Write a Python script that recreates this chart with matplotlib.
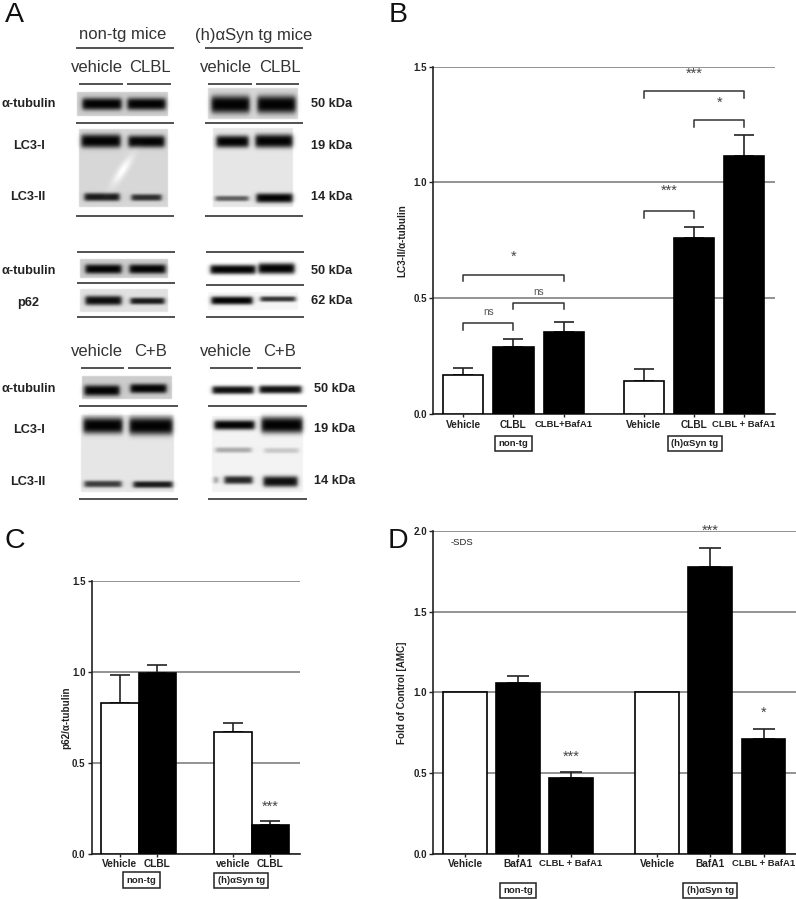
#!/usr/bin/env python3
"""Four panel western blot / bar chart figure: blots in A, bar charts in B, C, D."""

import numpy as np
import matplotlib
matplotlib.use('Agg')
import matplotlib.pyplot as plt

plt.rcParams['font.family'] = ['Liberation Sans', 'DejaVu Sans']

W, H = 796, 899
DARK = '#222222'
GRID = '#808080'

# panel B
b_labels = ['Vehicle', 'CLBL', 'CLBL+BafA1', 'Vehicle', 'CLBL', 'CLBL + BafA1']
b_values = [0.167, 0.288, 0.353, 0.144, 0.759, 1.114]
b_errors = [0.030, 0.036, 0.043, 0.050, 0.047, 0.089]
b_filled = [False, True, True, False, True, True]

# panel C
c_labels = ['Vehicle', 'CLBL', 'vehicle', 'CLBL']
c_values = [0.83, 0.993, 0.67, 0.16]
c_errors = [0.156, 0.044, 0.052, 0.018]
c_filled = [False, True, False, True]

# panel D
d_labels = ['Vehicle', 'BafA1', 'CLBL + BafA1', 'Vehicle', 'BafA1', 'CLBL + BafA1']
d_values = [1.0, 1.06, 0.469, 1.0, 1.779, 0.711]
d_errors = [0.0, 0.043, 0.035, 0.0, 0.118, 0.064]
d_filled = [False, True, True, False, True, True]

fig = plt.figure(figsize=(W / 100, H / 100), dpi=100)


def px_axes(left, right, top, bottom):
    return fig.add_axes([left / W, 1 - bottom / H, (right - left) / W, (bottom - top) / H])


# ---- panel A, drawn on a pixel canvas ----
yy, xx = np.mgrid[0:H, 0:W]
canvas = np.ones((H, W))


def blot(x0, x1, y0, y1, grey):
    canvas[int(y0):int(y1), int(x0):int(x1)] = grey


def band(x0, x1, yc, h, strength=1.0):
    edge = 1 / (1 + np.exp((x0 + 2 - xx) / 1.2)) * 1 / (1 + np.exp((xx - x1 + 2) / 1.2))
    dark = strength * edge * np.exp(-np.abs((yy - yc) / (h * 0.68)) ** 3)
    canvas[:] = canvas * (1 - dark) + 0.01 * dark


# first set
blot(77, 168, 92, 116, 0.80)
blot(208, 298, 88, 119, 0.84)
blot(79, 168, 129, 207, 0.84)
blot(213, 293, 128, 207, 0.90)
band(80, 123, 103.5, 9)
band(125, 167, 103.5, 9)
band(209, 251, 104, 13)
band(255, 297, 104, 13)
band(79, 122, 140.5, 10)
band(126, 166, 141, 9)
band(82, 121, 196.5, 6, 0.9)
band(129, 163, 197, 5, 0.8)
band(214, 250, 141, 9)
band(253, 294, 140.5, 10)
band(213, 250, 198, 4, 0.6)
band(254, 294, 197.5, 7)
# pale streak in the LC3 blot
streak = np.exp(-(((xx - 122 + (yy - 170) * 0.6) / 5) ** 2 + ((yy - 170) / 14) ** 2))
canvas[:] = canvas * (1 - streak) + streak

# second set
blot(80, 168, 259, 278, 0.80)
blot(80, 168, 289, 312, 0.88)
blot(208, 298, 292, 310, 0.96)
band(83, 123, 268.5, 7)
band(127, 167, 268.5, 7)
band(208, 257, 269, 7)
band(256, 296, 268, 8)
band(83, 123, 300, 7, 0.95)
band(128, 166, 300.5, 5, 0.9)
band(209, 254, 300, 6, 1.0)
band(258, 297, 298.5, 4, 0.8)

# third set
blot(82, 172, 376, 399, 0.80)
blot(81, 174, 415, 492, 0.90)
blot(212, 303, 416, 492, 0.95)
band(82, 121, 390, 8)
band(128, 168, 388, 7)
band(210, 255, 389.5, 6, 0.95)
band(257, 303, 389, 6, 0.95)
band(81, 124, 425, 12)
band(127, 174, 425.5, 13)
band(82, 123, 483.5, 5, 0.75)
band(131, 174, 484, 5, 0.9)
band(212, 256, 424.5, 7)
band(259, 304, 424.5, 12)
band(213, 253, 449.5, 4, 0.3)
band(262, 300, 450, 4, 0.18)
band(222, 254, 479.5, 6, 0.85)
band(212, 219, 479.5, 5, 0.5)
band(261, 299, 481, 8, 0.95)

# light blur so the blots are not razor sharp
canvas = (canvas * 2 + np.roll(canvas, 1, 0) + np.roll(canvas, -1, 0)
          + np.roll(canvas, 1, 1) + np.roll(canvas, -1, 1)) / 6

bg = fig.add_axes([0, 0, 1, 1])
bg.imshow(canvas, cmap='gray', vmin=0, vmax=1, extent=(0, W, H, 0), aspect='auto',
          interpolation='bilinear')
bg.set_xlim(0, W)
bg.set_ylim(H, 0)
bg.axis('off')

# separator lines: x0, x1, y
long_lines = [(76, 174, 48.3), (205, 303, 48.3), (76, 174, 122.7), (205, 303, 122.7),
              (76, 174, 215.7), (205, 303, 215.7), (77, 175, 251.7), (206, 304, 251.7),
              (77, 175, 283.3), (206, 304, 285), (77, 175, 317.3), (206, 304, 317.3),
              (79, 178, 406.3), (208, 307, 406.3), (79, 178, 499), (208, 307, 499)]
short_lines = [(79, 123, 84.3), (127, 171, 84.3), (208, 252, 84.3), (256, 299, 84.3),
               (81, 124, 368), (128, 171, 368), (210, 253, 368), (257, 301, 368)]
for x0, x1, y in long_lines + short_lines:
    bg.plot([x0, x1], [y, y], color='#333333', lw=1.2, solid_capstyle='butt')

for x, y, s in [(123, 35, 'non-tg mice'), (254, 35.5, '(h)αSyn tg mice'),
                (97, 67.5, 'vehicle'), (149.5, 67.5, 'CLBL'),
                (226, 67.5, 'vehicle'), (279.5, 67.5, 'CLBL'),
                (97, 351, 'vehicle'), (150.5, 351, 'C+B'),
                (226, 351, 'vehicle'), (279.5, 351, 'C+B')]:
    bg.text(x, y, s, fontsize=12, color='#333333', ha='center', va='center')

for x, y, s in [(28.5, 104, 'α-tubulin'), (29, 146, 'LC3-I'), (28, 197, 'LC3-II'),
                (28.5, 271, 'α-tubulin'), (28, 303, 'p62'),
                (28.5, 389, 'α-tubulin'), (29, 430, 'LC3-I'), (28, 482, 'LC3-II')]:
    bg.text(x, y, s, fontsize=9.2, color=DARK, fontweight='bold', ha='center', va='center')

for x, y, s in [(332, 104, '50 kDa'), (332, 146, '19 kDa'), (332, 197, '14 kDa'),
                (332, 270.5, '50 kDa'), (332, 301.5, '62 kDa'),
                (335, 388.5, '50 kDa'), (335, 429.5, '19 kDa'), (335, 481, '14 kDa')]:
    bg.text(x, y, s, fontsize=9.2, color=DARK, fontweight='bold', ha='center', va='center')

for x, y, s in [(4.5, 22.5, 'A'), (389, 22.5, 'B'), (4, 548, 'C'), (388, 548, 'D')]:
    bg.text(x, y, s, fontsize=20.5, color='#111111', ha='left', va='baseline')


# ---- bar panels ----
def bar_panel(ax, xs, values, errors, filled, labels, ylim, yticks, ylabel, label_x):
    ax.set_facecolor('none')
    ax.set_axisbelow(True)
    ax.yaxis.grid(True, color=GRID, lw=1.2)
    ax.xaxis.grid(False)
    for i, x in enumerate(xs):
        ax.bar(x, values[i], width=BAR_W, color='black' if filled[i] else 'white',
               edgecolor='black', linewidth=1.2, zorder=3)
        if errors[i] > 0:
            ax.errorbar(x, values[i], yerr=[[0], [errors[i]]], color='#222222', elinewidth=1.2,
                        capsize=CAP, capthick=1.2, zorder=2)
    ax.set_ylim(*ylim)
    ax.set_yticks(yticks)
    ax.set_yticklabels([f'{t:.1f}' for t in yticks], fontsize=7, fontweight='bold', color=DARK)
    ax.set_xticks(xs)
    ax.set_xticklabels(labels, fontsize=7.3, fontweight='bold', color=DARK)
    for tick_label in ax.get_xticklabels():
        if '+' in tick_label.get_text():
            tick_label.set_fontsize(6.8)
    ax.tick_params(axis='y', length=3, width=1, pad=1.5, color=DARK)
    ax.tick_params(axis='x', length=2.5, width=1, pad=1.5, color=DARK)
    for side in ['top', 'right']:
        ax.spines[side].set_visible(False)
    for side in ['left', 'bottom']:
        ax.spines[side].set_linewidth(1.2)
        ax.spines[side].set_color(DARK)
    ax.set_ylabel(ylabel, fontsize=7.1, fontweight='bold', color=DARK)
    ax.yaxis.set_label_coords(label_x, 0.5)


def stars(ax, x, y, s):
    ax.annotate(s, (x, y), xytext=(0, -3.8), textcoords='offset points', fontsize=10.5,
                color='#444444', ha='center', va='baseline', annotation_clip=False, zorder=6)


def bracket(ax, x0, x1, y, drop):
    ax.plot([x0, x0, x1, x1], [y - drop, y, y, y - drop], color='#333333', lw=1.1, zorder=5)


def group_box(ax, x, y, s):
    ax.text(x, y, s, transform=ax.get_xaxis_transform(), fontsize=6.8, fontweight='bold',
            color=DARK, ha='center', va='center',
            bbox=dict(boxstyle='square,pad=0.35', fc='white', ec='#222222', lw=1.1))


# B
BAR_W, CAP = 0.8, 7.2
ax_b = px_axes(433.3, 775, 66.7, 414)
b_x = [1, 2, 3, 4.6, 5.6, 6.6]
ax_b.set_xlim(0.4, 7.22)
bar_panel(ax_b, b_x, b_values, b_errors, b_filled, b_labels, (0, 1.5),
          [0, 0.5, 1.0, 1.5], 'LC3-II/α-tubulin', -0.077)
bracket(ax_b, 1, 3, 0.600, 0.025)
bracket(ax_b, 1, 2, 0.392, 0.03)
bracket(ax_b, 2, 3, 0.478, 0.025)
bracket(ax_b, 4.6, 6.6, 1.396, 0.03)
bracket(ax_b, 5.6, 6.6, 1.270, 0.03)
bracket(ax_b, 4.6, 5.6, 0.878, 0.03)
stars(ax_b, 2, 0.684, '*')
stars(ax_b, 5.6, 1.476, '***')
stars(ax_b, 6.11, 1.348, '*')
stars(ax_b, 5.11, 0.970, '***')
ax_b.text(1.5, 0.439, 'ns', fontsize=7.2, color='#555555', ha='center', va='center', zorder=6)
ax_b.text(2.5, 0.528, 'ns', fontsize=7.2, color='#555555', ha='center', va='center', zorder=6)
group_box(ax_b, 2, -0.085, 'non-tg')
group_box(ax_b, 5.62, -0.085, '(h)αSyn tg')

# C
BAR_W, CAP = 1.0, 7
ax_c = px_axes(91.7, 300, 581.3, 853.7)
c_x = [1, 2, 4.03, 5.03]
ax_c.set_xlim(0.245, 5.83)
bar_panel(ax_c, c_x, c_values, c_errors, c_filled, c_labels, (0, 1.5),
          [0, 0.5, 1.0, 1.5], 'p62/α-tubulin', -0.1)
stars(ax_c, 5.03, 0.268, '***')
group_box(ax_c, 1.58, -0.097, 'non-tg')
group_box(ax_c, 4.25, -0.099, '(h)αSyn tg')

# D
BAR_W, CAP = 0.82, 8
ax_d = px_axes(433.3, 796, 531, 853.7)
d_x = [1, 2, 3, 4.62, 5.62, 6.63]
ax_d.set_xlim(0.402, 7.24)
bar_panel(ax_d, d_x, d_values, d_errors, d_filled, d_labels, (0, 2.0),
          [0, 0.5, 1.0, 1.5, 2.0], 'Fold of Control [AMC]', -0.072)
stars(ax_d, 3, 0.607, '***')
stars(ax_d, 5.62, 2.01, '***')
stars(ax_d, 6.63, 0.88, '*')
ax_d.text(0.72, 1.93, '-SDS', fontsize=6.8, color=DARK, ha='left', va='center')
group_box(ax_d, 2, -0.114, 'non-tg')
group_box(ax_d, 5.62, -0.114, '(h)αSyn tg')

fig.savefig('out.png', dpi=100)
